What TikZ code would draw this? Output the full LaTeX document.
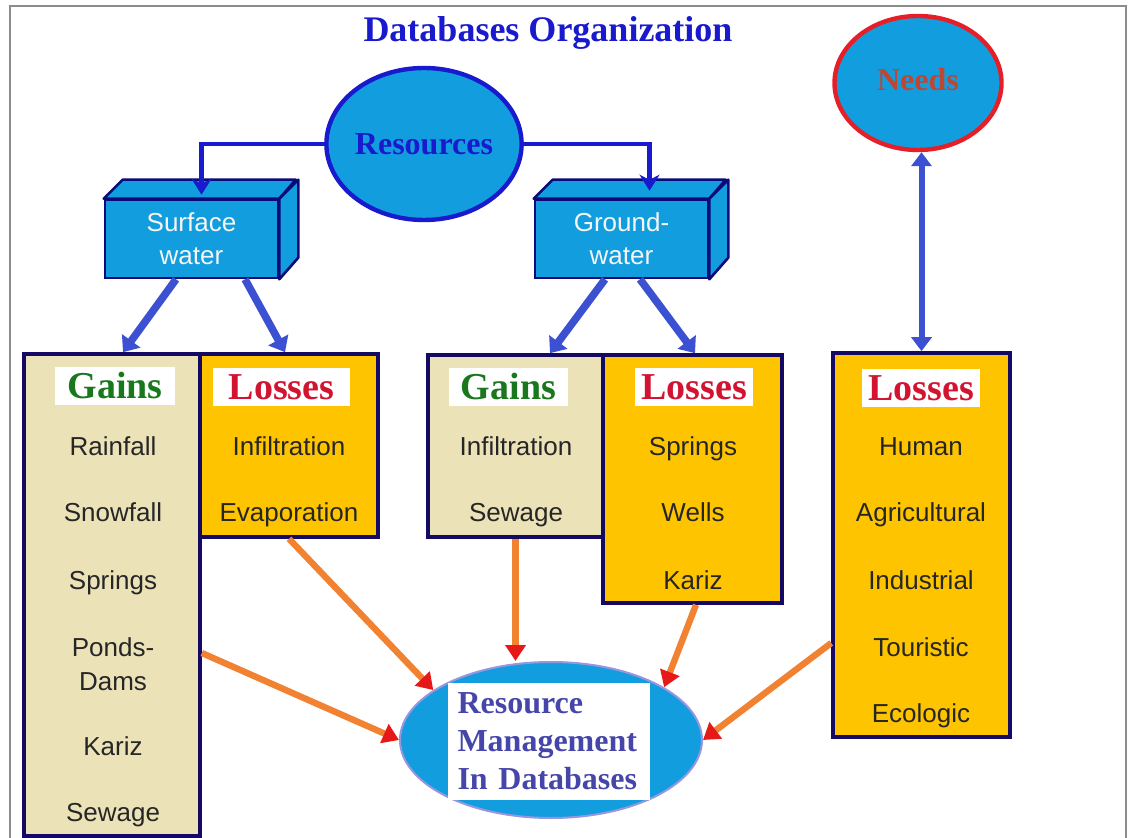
\documentclass[tikz,border=0pt]{standalone}
\usepackage{fontspec}
\setmainfont{Liberation Serif}
\newfontfamily\itemfont{Liberation Sans}
\usetikzlibrary{shapes.geometric,arrows.meta}

\definecolor{waterblue}{RGB}{18,158,222}
\definecolor{cubeedge}{RGB}{10,10,120}
\definecolor{boxedge}{RGB}{20,10,100}
\definecolor{gainfill}{RGB}{236,226,184}
\definecolor{lossfill}{RGB}{255,196,0}
\definecolor{gaingreen}{RGB}{25,120,30}
\definecolor{lossred}{RGB}{210,20,50}
\definecolor{titleblue}{RGB}{25,25,205}
\definecolor{linkblue}{RGB}{60,80,210}
\definecolor{feedorange}{RGB}{240,130,50}
\definecolor{tipred}{RGB}{230,25,25}
\definecolor{needred}{RGB}{230,30,40}
\definecolor{needtext}{RGB}{190,70,50}
\definecolor{rmtext}{RGB}{70,70,170}
\definecolor{rmedge}{RGB}{150,150,225}
\definecolor{framegray}{RGB}{140,140,140}

\begin{document}
\begin{tikzpicture}[
  x=0.5pt,y=-0.5pt,
  cube/.style={draw=cubeedge,fill=waterblue,line width=1.3pt,minimum width=86.5pt,minimum height=39pt,inner sep=0pt,font=\itemfont\fontsize{13}{16.5}\selectfont,text=white!92!gray,align=center},
  gainbox/.style={draw=boxedge,fill=gainfill,line width=1.8pt,inner sep=0pt},
  lossbox/.style={draw=boxedge,fill=lossfill,line width=1.8pt,inner sep=0pt},
  head/.style={fill=white,inner sep=0pt,minimum height=19pt,font=\bfseries\fontsize{19}{19}\selectfont},
  item/.style={font=\itemfont\fontsize{13}{17}\selectfont,text=black!85,align=center,inner sep=0pt},
  feed/.style={feedorange,line width=3.2pt,-{Triangle[color=tipred,length=8pt,width=10pt]}},
  split/.style={linkblue,line width=3.8pt,-{Triangle[length=7pt,width=11pt]}},
  reslink/.style={titleblue,line width=2.4pt,-{Stealth[length=8pt,width=10pt]}}
]
\useasboundingbox (0,0) rectangle (1128,838);
\draw[framegray,line width=0.6pt] (10,838) |- (1126,6) -- (1126,838);

\def\xsg{113}
\def\xsl{289}
\def\xgg{516}
\def\xgl{693}
\def\xnl{921}

% title and the two ellipses on top
\node[font=\bfseries\fontsize{18}{18}\selectfont,text=titleblue] (title) at (548,33) {Databases Organization};
\node[ellipse,draw=titleblue,fill=waterblue,line width=2.2pt,minimum width=89pt,minimum height=76pt,inner sep=0pt,
  font=\bfseries\fontsize{16}{16}\selectfont,text=titleblue] (res) at (424,144) {Resources};
\node[ellipse,draw=needred,fill=waterblue,line width=2.2pt,minimum width=83.5pt,minimum height=67pt,inner sep=0pt,
  font=\bfseries\fontsize{16}{16}\selectfont,text=needtext] (needs) at (918,83) {\raisebox{4pt}{Needs}};

% water bodies
\node[cube] (sw) at (191.5,239) {Surface\\water};
\node[cube] (gw) at (621.5,239) {Ground-\\water};
\foreach \c in {sw,gw}{
  \draw[cubeedge,line width=1.3pt,fill=waterblue,line join=round] (\c.north west) -- ++(19,-19) -- ++(173,0) -- (\c.north east) -- cycle;
  \draw[cubeedge,line width=1.3pt,fill=waterblue,line join=round] (\c.north east) -- ++(19,-19) -- ++(0,78) -- (\c.south east) -- cycle;
}

% balance boxes
\node[gainbox,minimum width=88pt,minimum height=241pt] (sgain) at (112,595) {};
\node[lossbox,minimum width=89pt,minimum height=91.5pt] (sloss) at (289,445.5) {};
\node[gainbox,minimum width=87.5pt,minimum height=91pt] (ggain) at (515.5,446) {};
\node[lossbox,minimum width=89.5pt,minimum height=124pt] (gloss) at (692.5,479) {};
\node[lossbox,minimum width=88.5pt,minimum height=192pt] (nloss) at (921.5,545) {};

\node[head,text=gaingreen,minimum width=60pt] (sgainh) at (115,386) {Gains};
\node[head,text=lossred,minimum width=68.5pt] (slossh) at (281.5,387) {Losses};
\node[head,text=gaingreen,minimum width=59.5pt] (ggainh) at (508.5,387) {Gains};
\node[head,text=lossred,minimum width=59pt] (glossh) at (694,387) {Losses};
\node[head,text=lossred,minimum width=59pt] (nlossh) at (921,388) {Losses};

\foreach \i/\y/\t in {1/456/Rainfall,2/522/Snowfall,3/589/Springs,5/755/Kariz,6/821/Sewage}{
  \node[item,anchor=base] (sg\i) at (\xsg,\y) {\t};
}
\node[item] (sg4) at (\xsg,664) {Ponds-\\Dams};
\foreach \i/\y/\t in {1/456/Infiltration,2/522/Evaporation}{
  \node[item,anchor=base] (sl\i) at (\xsl,\y) {\t};
}
\foreach \i/\y/\t in {1/456/Infiltration,2/522/Sewage}{
  \node[item,anchor=base] (gg\i) at (\xgg,\y) {\t};
}
\foreach \i/\y/\t in {1/456/Springs,2/522/Wells,3/589/Kariz}{
  \node[item,anchor=base] (gl\i) at (\xgl,\y) {\t};
}
\foreach \i/\y/\t in {1/456/Human,2/522/Agricultural,3/589/Industrial,4/656/Touristic,5/722/Ecologic}{
  \node[item,anchor=base] (nl\i) at (\xnl,\y) {\t};
}

% management ellipse
\node[ellipse,draw=rmedge,fill=waterblue,line width=1pt,minimum width=151pt,minimum height=78pt,inner sep=0pt] (rm) at (551,740) {};
\node[fill=white,text=rmtext,font=\bfseries\fontsize{16}{19}\selectfont,align=left,text width=91pt,inner xsep=5pt,
  minimum height=58.5pt] (rmlabel) at (548.5,741.5) {Resource\\Management\\In Databases};

% links
\draw[reslink] (res.west) -| ([xshift=5pt,yshift=2pt]sw.north);
\draw[reslink] (res.east) -| ([xshift=14pt,yshift=4pt]gw.north);

\draw[split] ([xshift=-7.75pt]sw.south) -- ([xshift=5.5pt]sgain.north);
\draw[split] ([xshift=26.75pt]sw.south) -- ([xshift=-2pt]sloss.north);
\draw[split] ([xshift=-8.25pt]gw.south) -- ([xshift=17.25pt]ggain.north);
\draw[split] ([xshift=9.25pt]gw.south) -- ([xshift=1.25pt]gloss.north);
\draw[linkblue,line width=3pt,{Triangle[length=7pt,width=10pt]}-{Triangle[length=7pt,width=10pt]}] (nloss.north) -- (nloss.north |- needs.south);

\draw[feed] ([yshift=-29pt]sgain.east) -- (rm.west);
\draw[feed] (sloss.south) -- (rm.157);
\draw[feed] (ggain.south) -- (ggain.south |- rm.north);
\draw[feed] ([xshift=1.75pt]gloss.south) -- (rm.25);
\draw[feed] ([yshift=-49pt]nloss.west) -- (rm.east);

\end{tikzpicture}
\end{document}
